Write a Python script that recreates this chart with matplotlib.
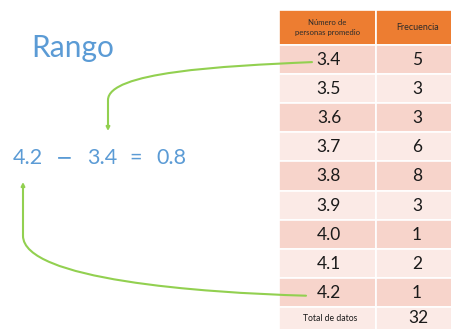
import matplotlib.pyplot as plt
from matplotlib.patches import Rectangle, FancyArrowPatch
from matplotlib.path import Path

plt.rcParams['font.family'] = ['Lato', 'DejaVu Sans']

# table data
valores = ['3.4', '3.5', '3.6', '3.7', '3.8', '3.9', '4.0', '4.1', '4.2']
frecuencia = [5, 3, 3, 6, 8, 3, 1, 2, 1]
encabezado = ['Número de\npersonas promedio', 'Frecuencia']
total_label = 'Total de datos'

BLUE = '#5B9BD5'
GREEN = '#92D050'
ORANGE = '#ED7D31'
ROW_DARK = '#F7D4CB'
ROW_LIGHT = '#FBEAE6'

W, H = 452, 329
fig = plt.figure(figsize=(W / 100, H / 100), dpi=100)
ax = fig.add_axes([0, 0, 1, 1])
ax.set_xlim(0, W)
ax.set_ylim(H, 0)
ax.axis('off')

# table geometry (pixels)
x0, x1, x2 = 279, 376, 453
head_top, head_bot = 10, 44.5
row_h = 29.2

def row_top(i):
    return head_bot + i * row_h

# header
ax.add_patch(Rectangle((x0, head_top), x1 - x0, head_bot - head_top, fc=ORANGE, ec='white', lw=1.2))
ax.add_patch(Rectangle((x1, head_top), x2 - x1, head_bot - head_top, fc=ORANGE, ec='white', lw=1.2))
ax.text((x0 + x1) / 2, (head_top + head_bot) / 2, encabezado[0], ha='center', va='center',
        fontsize=5.6, color='#2b2b2b', linespacing=1.5)
ax.text((x1 + x2) / 2 + 3, (head_top + head_bot) / 2, encabezado[1], ha='center', va='center',
        fontsize=6.4, color='#2b2b2b')

n = len(valores)
for i in range(n + 1):
    fc = ROW_DARK if i % 2 == 0 else ROW_LIGHT
    y = row_top(i)
    ax.add_patch(Rectangle((x0, y), x1 - x0, row_h, fc=fc, ec='white', lw=1.2))
    ax.add_patch(Rectangle((x1, y), x2 - x1, row_h, fc=fc, ec='white', lw=1.2))
    yc = y + row_h / 2 + 0.5
    if i < n:
        ax.text(329, yc, valores[i], ha='center', va='center', fontsize=12.5, color='#1a1a1a')
        ax.text(417, yc, str(frecuencia[i]), ha='center', va='center', fontsize=12.5, color='#1a1a1a')
    else:
        ax.text(330, y + 11, total_label, ha='center', va='center', fontsize=6.2, color='#1a1a1a')
        ax.text(418, y + 11, str(sum(frecuencia)), ha='center', va='center', fontsize=12.5, color='#1a1a1a')

# left side text
ax.text(73, 48, 'Rango', ha='center', va='center', fontsize=21.5, color=BLUE)

vmin = min(valores, key=float)
vmax = max(valores, key=float)
rango = float(vmax) - float(vmin)
eq_y = 158
ax.text(28, eq_y, vmax, ha='center', va='center', fontsize=15.5, color=BLUE)
ax.text(64, eq_y, '\u2212', ha='center', va='center', fontsize=14.5, color=BLUE,
        family='DejaVu Sans')
ax.text(102, eq_y, vmin, ha='center', va='center', fontsize=15.5, color=BLUE)
ax.text(136, eq_y, '=', ha='center', va='center', fontsize=15.5, color=BLUE)
ax.text(171, eq_y, f'{rango:.1f}', ha='center', va='center', fontsize=15.5, color=BLUE)

# curved connectors
i_min = valores.index(vmin)
i_max = valores.index(vmax)
ys = row_top(i_min) + row_h / 2 + 3
p1 = Path([(312, ys), (220, ys + 4), (108, ys + 10), (108, ys + 38), (108, 131)],
          [Path.MOVETO, Path.CURVE4, Path.CURVE4, Path.CURVE4, Path.LINETO])
ye = row_top(i_max) + row_h / 2 + 3
p2 = Path([(306, ye), (200, ye - 3), (23, ye - 16), (23, ye - 60), (23, 182)],
          [Path.MOVETO, Path.CURVE4, Path.CURVE4, Path.CURVE4, Path.LINETO])
for p in (p1, p2):
    ax.add_patch(FancyArrowPatch(path=p, arrowstyle='-|>', mutation_scale=5,
                                 color=GREEN, lw=1.5, shrinkA=0, shrinkB=0))

fig.savefig('out.png', dpi=100)
